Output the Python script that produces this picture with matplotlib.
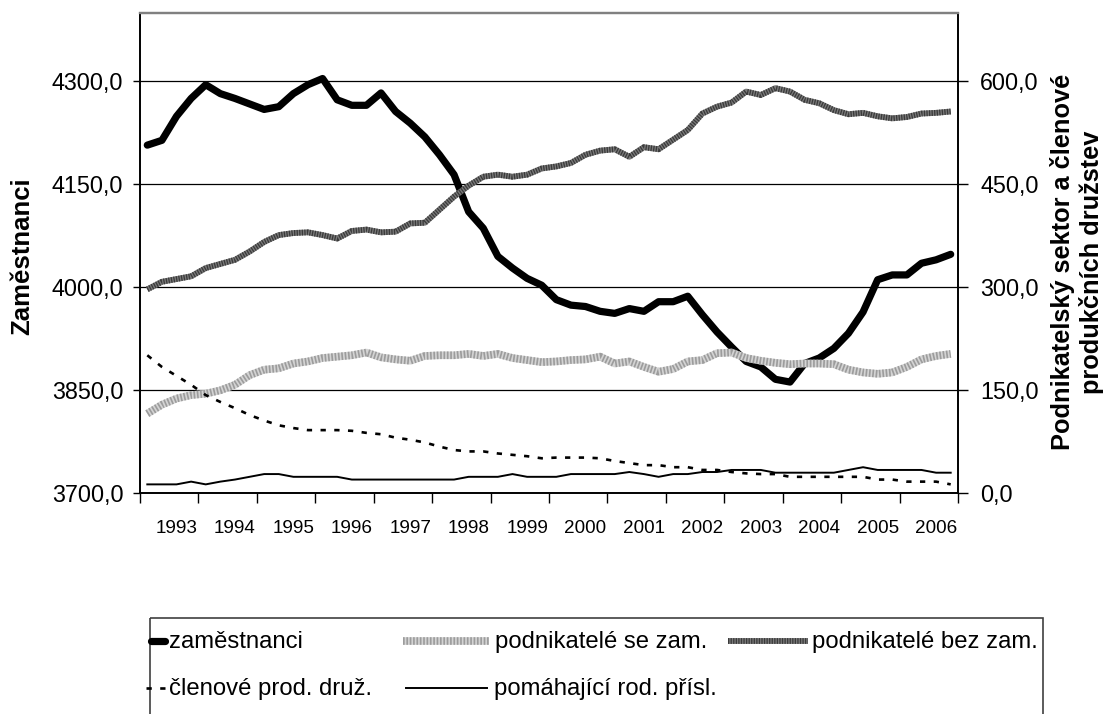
import numpy as np
import matplotlib
matplotlib.use('Agg')
import matplotlib.pyplot as plt
from matplotlib.ticker import FuncFormatter, NullFormatter
from matplotlib.patches import Rectangle

plt.rcParams['font.family'] = ['Liberation Sans', 'DejaVu Sans']

# quarterly values 1993 Q1 .. 2006 Q4 (thousands)
years = [str(y) for y in range(1993, 2007)]

zamestnanci = [4207, 4214, 4249, 4275, 4295, 4282, 4275, 4267, 4259, 4263,
               4282, 4295, 4304, 4273, 4265, 4265, 4283, 4256, 4239, 4219,
               4193, 4164, 4110, 4086, 4045, 4028, 4013, 4003, 3982, 3974,
               3972, 3965, 3962, 3969, 3965, 3979, 3979, 3987, 3960, 3935,
               3913, 3892, 3884, 3866, 3862, 3889, 3897, 3911, 3933, 3964,
               4011, 4018, 4018, 4035, 4040, 4048]

se_zam = [116, 129, 138, 143, 145, 150, 158, 172, 180, 182,
          189, 192, 197, 199, 201, 205, 198, 195, 193, 200,
          201, 201, 203, 200, 203, 197, 194, 191, 192, 194,
          195, 199, 189, 192, 184, 177, 181, 192, 194, 204,
          205, 197, 193, 190, 188, 189, 189, 188, 180, 176,
          174, 176, 184, 195, 200, 203]

bez_zam = [297, 308, 312, 316, 328, 334, 340, 352, 366, 376,
           379, 380, 376, 371, 382, 384, 380, 381, 393, 394,
           413, 432, 448, 461, 464, 461, 464, 473, 476, 481,
           493, 499, 501, 490, 504, 501, 515, 529, 553, 563,
           569, 585, 580, 590, 585, 573, 568, 558, 552, 554,
           549, 546, 548, 553, 554, 556]

druzstva = [201, 184, 171, 158, 143, 133, 124, 114, 106, 99,
            95, 92, 92, 92, 91, 88, 86, 81, 78, 74,
            68, 63, 61, 61, 58, 56, 54, 51, 52, 52,
            52, 51, 47, 44, 41, 41, 38, 38, 34, 34,
            31, 29, 28, 28, 24, 24, 24, 24, 24, 24,
            20, 20, 17, 17, 17, 13]

pomahajici = [13, 13, 13, 17, 13, 17, 20, 24, 28, 28,
              24, 24, 24, 24, 20, 20, 20, 20, 20, 20,
              20, 20, 24, 24, 24, 28, 24, 24, 24, 28,
              28, 28, 28, 31, 28, 24, 28, 28, 31, 31,
              34, 34, 34, 30, 30, 30, 30, 30, 34, 38,
              34, 34, 34, 34, 30, 30]

labels = ['zaměstnanci', 'podnikatelé se zam.', 'podnikatelé bez zam.',
          'členové prod. druž.', 'pomáhající rod. přísl.']

W, H = 1105, 714
x = np.arange(len(zamestnanci))
comma = FuncFormatter(lambda v, p: f'{v:.1f}'.replace('.', ','))

fig = plt.figure(figsize=(W / 100, H / 100), dpi=100)
ax = fig.add_axes([140 / W, 1 - 493.3 / H, 818 / W, 480.7 / H])


def striped(axis, y, base, stripe, lw, **kw):
    # Excel-like hatched line: solid base plus fine dash overlay
    axis.plot(x, y, color=base, lw=lw, solid_capstyle='butt', **kw)
    axis.plot(x, y, color=stripe, lw=lw, dashes=(0.22, 0.22),
              dash_capstyle='butt', **kw)


ax.plot(x, zamestnanci, color='black', lw=5.2,
        solid_capstyle='round', solid_joinstyle='round')
ax.set_xlim(-0.5, len(x) - 0.5)
ax.set_ylim(3700, 4400)
ax.set_yticks([3700, 3850, 4000, 4150, 4300])
ax.yaxis.set_major_formatter(comma)
ax.yaxis.grid(True, color='black', lw=0.9)
ax.set_axisbelow(True)

ax2 = ax.twinx()
striped(ax2, se_zam, '#d4d4d4', '#9c9c9c', 5.5)
striped(ax2, bez_zam, '#7a7a7a', '#3a3a3a', 4.2)
ax2.plot(x, druzstva, color='black', lw=1.9, dashes=(2.0, 3.2))
ax2.plot(x, pomahajici, color='black', lw=1.4)
ax2.set_ylim(0, 700)
ax2.set_yticks([0, 150, 300, 450, 600])
ax2.yaxis.set_major_formatter(comma)

# year boundaries as ticks, year names centred on the third quarter
ax.set_xticks(np.arange(-0.5, len(x), 4))
ax.xaxis.set_major_formatter(NullFormatter())
ax.set_xticks(np.arange(2, len(x), 4), minor=True)
ax.set_xticklabels(years, minor=True)
ax.tick_params(axis='x', which='major', direction='out', length=7, width=1)
ax.tick_params(axis='x', which='minor', length=0, pad=19, labelsize=13.6)
ax.tick_params(axis='y', direction='out', length=5, width=1, pad=7,
               labelsize=16.8)
ax2.tick_params(axis='y', direction='out', length=7, width=1, pad=9,
                labelsize=16.8)

for a in (ax, ax2):
    for side in ('left', 'right', 'bottom'):
        a.spines[side].set_color('black')
        a.spines[side].set_linewidth(1.2)
    a.spines['top'].set_color('#808080')
    a.spines['top'].set_linewidth(1.6)

fig.text(22 / W, 1 - 256 / H, 'Zaměstnanci', rotation=90, ha='center',
         va='center', fontsize=18.5, fontweight='bold')
fig.text(1077 / W, 1 - 262 / H,
         'Podnikatelský sektor a členové\nprodukčních družstev',
         rotation=90, ha='center', va='center', multialignment='center',
         fontsize=18.3, fontweight='bold', linespacing=1.2)

# legend box drawn in pixel space, matching the Excel layout
lax = fig.add_axes([0, 0, 1, 1], facecolor='none')
lax.set_xlim(0, W)
lax.set_ylim(H, 0)
lax.axis('off')
lax.add_patch(Rectangle((150, 618), 893, 150, fill=False,
                        edgecolor='#404040', lw=1.2))

rows = [641, 688]
entries = [
    (labels[0], (151, 165), 169, rows[0], 'zam'),
    (labels[1], (403, 489), 495, rows[0], 'se'),
    (labels[2], (728, 808), 812, rows[0], 'bez'),
    (labels[3], (146, 165), 169, rows[1], 'druz'),
    (labels[4], (406, 487), 494, rows[1], 'pom'),
]
for text, (x0, x1), tx, ry, key in entries:
    if key == 'zam':
        lax.plot([x0, x1], [ry, ry], color='black', lw=5.2,
                 solid_capstyle='round')
    elif key == 'se':
        lax.plot([x0, x1], [ry, ry], color='#d4d4d4', lw=5.5,
                 solid_capstyle='butt')
        lax.plot([x0, x1], [ry, ry], color='#9c9c9c', lw=5.5,
                 dashes=(0.22, 0.22), dash_capstyle='butt')
    elif key == 'bez':
        lax.plot([x0, x1], [ry, ry], color='#7a7a7a', lw=4.2,
                 solid_capstyle='butt')
        lax.plot([x0, x1], [ry, ry], color='#3a3a3a', lw=4.2,
                 dashes=(0.22, 0.22), dash_capstyle='butt')
    elif key == 'druz':
        lax.plot([x0, x1], [ry, ry], color='black', lw=1.9,
                 dashes=(2.0, 3.2))
    else:
        lax.plot([x0, x1], [ry, ry], color='black', lw=1.4)
    lax.text(tx, ry + 7, text, fontsize=17.2, ha='left', va='baseline')

fig.savefig('out.png', dpi=100)
